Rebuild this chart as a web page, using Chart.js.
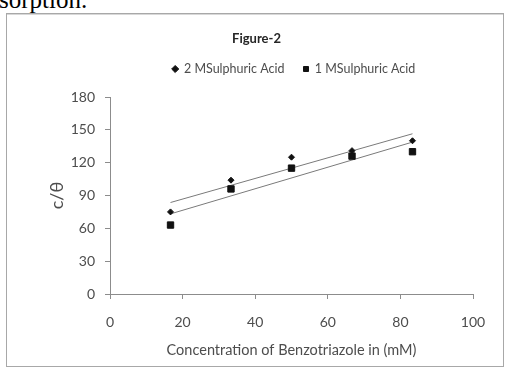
<!DOCTYPE html>
<html>
<head>
<meta charset="utf-8">
<script src="https://cdn.jsdelivr.net/npm/chart.js@4/dist/chart.umd.min.js"></script>
<style>
  html, body { margin: 0; padding: 0; background: #fff; width: 505px; height: 368px; overflow: hidden; position: relative; }
  #above { position: absolute; left: -1px; top: -13px; font-family: "Liberation Serif", "Times New Roman", serif; font-size: 25px; line-height: 25px; color: #000; white-space: nowrap; }
  #box { position: absolute; left: 6px; top: 13px; width: 496px; height: 352px; border: 1px solid #a8a8a8; box-shadow: inset 0 1px 0 #d8d8d8; background: #fff; }
  #wrap { position: absolute; left: 0; top: 0; width: 505px; height: 368px; }
</style>
</head>
<body>
<div id="above">sorption.</div>
<div id="box"></div>
<div id="wrap"><canvas id="c" width="505" height="368"></canvas></div>
<script>
// ---- data ----
const concentrations = [16.67, 33.33, 50, 66.67, 83.33];
const acid2M = [75, 104, 125, 131, 140];
const acid1M = [63, 96, 115, 126, 130];
const seriesNames = ['2 MSulphuric Acid', '1 MSulphuric Acid'];
const xTicks = [0, 20, 40, 60, 80, 100];
const yTicks = [0, 30, 60, 90, 120, 150, 180];
const chartTitle = 'Figure-2';
const xTitle = 'Concentration of Benzotriazole in (mM)';
const yTitle = 'c/θ';

function points(xs, ys) { return xs.map((x, i) => ({ x: x, y: ys[i] })); }
// least-squares linear trendline (as in the original spreadsheet chart)
function trend(xs, ys) {
  const n = xs.length;
  const mx = xs.reduce((a, b) => a + b, 0) / n;
  const my = ys.reduce((a, b) => a + b, 0) / n;
  let sxy = 0, sxx = 0;
  for (let i = 0; i < n; i++) { sxy += (xs[i] - mx) * (ys[i] - my); sxx += (xs[i] - mx) * (xs[i] - mx); }
  const b = sxy / sxx, a = my - b * mx;
  const x0 = xs[0], x1 = xs[n - 1];
  return [{ x: x0, y: a + b * x0 }, { x: x1, y: a + b * x1 }];
}

const FONT = 'Lato, "Open Sans", "Liberation Sans", sans-serif';
const TXT = '#4d4d4d';
const AXIS = '#8c8c8c';

const shiftBoxes = {
  id: 'shiftBoxes',
  afterLayout(chart) {
    const t = chart.titleBlock;
    if (t) { t.left += 17; t.right += 17; }
    const l = chart.legend;
    if (l) { l.left += 54.5; l.right += 54.5; l.top -= 11.75; l.bottom -= 11.75; }
  }
};

new Chart(document.getElementById('c'), {
  type: 'scatter',
  data: {
    datasets: [
      { label: seriesNames[0], data: points(concentrations, acid2M), pointStyle: 'rectRot', pointRadius: 3, backgroundColor: '#111', borderColor: '#111', borderWidth: 1, showLine: false },
      { label: seriesNames[1], data: points(concentrations, acid1M), pointStyle: 'rect', pointRadius: 4.5, backgroundColor: '#111', borderColor: '#111', borderWidth: 1, showLine: false },
      { label: 'trend2', data: trend(concentrations, acid2M), showLine: true, pointRadius: 0, borderColor: '#7a7a7a', borderWidth: 1, fill: false },
      { label: 'trend1', data: trend(concentrations, acid1M), showLine: true, pointRadius: 0, borderColor: '#7a7a7a', borderWidth: 1, fill: false }
    ]
  },
  options: {
    responsive: false,
    animation: false,
    events: [],
    layout: { padding: { left: 6, right: 32, top: 0, bottom: 0 } },
    plugins: {
      tooltip: { enabled: false },
      title: {
        display: true, text: chartTitle, color: '#262626',
        font: { family: FONT, size: 13, weight: 'bold' },
        padding: { top: 31, bottom: 8.9 }
      },
      legend: {
        display: true, position: 'top',
        labels: {
          usePointStyle: true, boxWidth: 5, boxHeight: 5, padding: 19,
          color: TXT, font: { family: FONT, size: 12.5 },
          filter: (item) => item.datasetIndex < 2
        }
      }
    },
    scales: {
      x: {
        type: 'linear', min: 0, max: 100,
        afterBuildTicks: (s) => { s.ticks = xTicks.map(v => ({ value: v })); },
        afterFit: (s) => { s.height = 74; },
        grid: { display: true, drawOnChartArea: false, drawTicks: true, tickLength: 5, color: AXIS },
        border: { display: true, color: AXIS, width: 1 },
        ticks: { color: TXT, font: { family: FONT, size: 14 }, padding: 14.6, maxRotation: 0 },
        title: { display: true, text: xTitle, color: TXT, font: { family: FONT, size: 14.5 }, padding: { top: 0, bottom: 9.3 } }
      },
      y: {
        type: 'linear', min: 0, max: 180,
        afterBuildTicks: (s) => { s.ticks = yTicks.map(v => ({ value: v })); },
        afterFit: (s) => { s.width = 104; },
        grid: { display: true, drawOnChartArea: false, drawTicks: true, tickLength: 5, color: AXIS },
        border: { display: true, color: AXIS, width: 1 },
        ticks: { color: TXT, font: { family: FONT, size: 14 }, padding: 10 },
        title: { display: true, text: yTitle, color: TXT, font: { family: FONT, size: 18 }, padding: { top: 40.2, bottom: 0 } }
      }
    }
  },
  plugins: [shiftBoxes]
});
</script>
</body>
</html>
